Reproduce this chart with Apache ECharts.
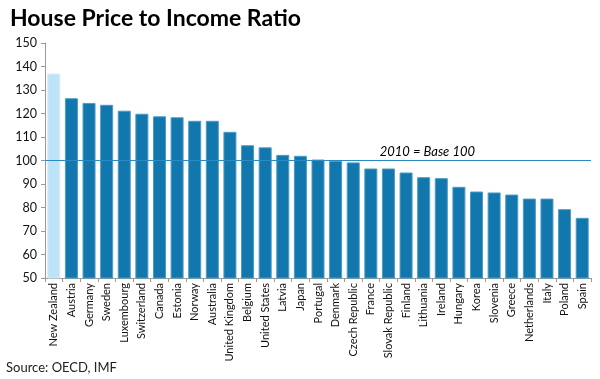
<!DOCTYPE html>
<html>
<head>
<meta charset="utf-8">
<script src="https://cdn.jsdelivr.net/npm/echarts@6/dist/echarts.min.js"></script>
<style>
html,body{margin:0;padding:0;background:#fff;}
#c{width:600px;height:379px;}
</style>
</head>
<body>
<div id="c"></div>
<script>
var categories = ["New Zealand","Austria","Germany","Sweden","Luxembourg","Switzerland","Canada","Estonia","Norway","Australia","United Kingdom","Belgium","United States","Latvia","Japan","Portugal","Denmark","Czech Republic","France","Slovak Republic","Finland","Lithuania","Ireland","Hungary","Korea","Slovenia","Greece","Netherlands","Italy","Poland","Spain"];
var values = [137,126.5,124.5,123.7,121.2,119.9,118.8,118.4,116.9,116.9,112.2,106.5,105.6,102.4,102.0,100.4,99.9,99.2,96.6,96.6,94.9,92.9,92.5,88.8,86.8,86.4,85.5,83.8,83.8,79.3,75.6];
var highlighted = ["New Zealand"];
var baseValue = 100;
var baseLabel = "2010 = Base 100";
var yTicks = {min:50, max:150, interval:10};

var FONT = "Lato, 'Open Sans', sans-serif";
var chart = echarts.init(document.getElementById('c'), null, {renderer:'canvas'});
var data = values.map(function(v,i){
  var hl = highlighted.indexOf(categories[i]) >= 0;
  return {value:v, itemStyle: hl ? {color:'#bce3f7', borderColor:'#d6eefa'} : {color:'#1177ad', borderColor:'#4b9ccb'}};
});
chart.setOption({
  animation:false,
  title:{text:'House Price to Income Ratio', left:5, top:2,
    textStyle:{fontFamily:FONT, fontWeight:'bold', fontSize:23, color:'#000'}},
  graphic:[{type:'text', left:6, top:361, style:{text:'Source: OECD, IMF', fontFamily:FONT, fontSize:13, fill:'#222'}}],
  grid:{left:45, right:9, top:43, bottom:101},
  xAxis:{type:'category', data:categories,
    axisLine:{lineStyle:{color:'#999'}},
    axisTick:{show:true, length:4, lineStyle:{color:'#999'}},
    axisLabel:{interval:0, rotate:90, fontFamily:FONT, fontSize:11, color:'#111', margin:5}},
  yAxis:{type:'value', min:yTicks.min, max:yTicks.max, interval:yTicks.interval,
    splitLine:{show:false},
    axisLine:{show:true, lineStyle:{color:'#999'}},
    axisTick:{show:true, length:4, lineStyle:{color:'#999'}},
    axisLabel:{fontFamily:FONT, fontSize:12.5, color:'#111', margin:8}},
  series:[{type:'bar', data:data, barWidth:13,
    itemStyle:{borderWidth:1},
    markLine:{silent:true, symbol:['none','none'],
      lineStyle:{color:'#2b8cc4', width:1.2, type:'solid'},
      label:{show:true, position:'insideEndTop', distance:[116,2], formatter:baseLabel,
        fontFamily:FONT, fontStyle:'italic', fontSize:13, color:'#000'},
      data:[{yAxis:baseValue}]}
  }]
});
</script>
</body>
</html>
